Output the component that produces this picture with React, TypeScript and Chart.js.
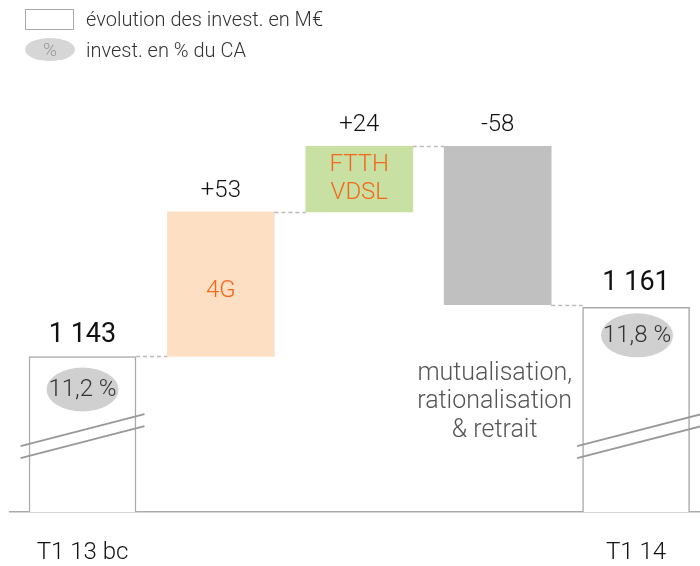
import React, { useEffect, useRef } from "react";
import { Chart, registerables } from "chart.js";

Chart.register(...registerables);

// ---- data ----
const categories = ["T1 13 bc", "4G", "FTTH/VDSL", "mutualisation", "T1 14"];
const xLabels = ["T1 13 bc", "", "", "", "T1 14"];
const startValue = 1143;
const deltas = [53, 24, -58];
const endValue = 1161;
const axisMin = 1086; // broken axis: value at the baseline
const axisMax = 1237;
const valueLabels = ["1 143", "+53", "+24", "-58", "1 161"];
const innerLabels = ["", "4G", "FTTH\nVDSL", "", ""];
const pctLabels = ["11,2 %", "", "", "", "11,8 %"];
const noteLabel = ["mutualisation,", "rationalisation", "& retrait"];
const barColors = ["#ffffff", "#fde0c4", "#c9e0a3", "#c0c0c0", "#ffffff"];

const FONT = "Roboto, 'Liberation Sans', Arial, sans-serif";
const W = "300";

function buildData() {
  const pts: { x: number; y: [number, number] }[] = [];
  pts.push({ x: 0, y: [axisMin, startValue] });
  let cum = startValue;
  deltas.forEach((d, i) => {
    pts.push({ x: i + 1, y: [cum, cum + d] });
    cum += d;
  });
  pts.push({ x: deltas.length + 1, y: [axisMin, endValue] });
  return pts;
}

const decorPlugin = {
  id: "decor",
  afterDatasetsDraw(chart: any) {
    const ctx = chart.ctx as CanvasRenderingContext2D;
    const meta = chart.getDatasetMeta(0);
    const yScale = chart.scales.y;
    const bars = meta.data as any[];
    const data = chart.data.datasets[0].data as any[];
    const last = bars.length - 1;
    ctx.save();
    // dashed connectors
    ctx.strokeStyle = "#bbbbbb";
    ctx.lineWidth = 1.5;
    ctx.setLineDash([4, 3]);
    for (let i = 0; i < last; i++) {
      const a = bars[i];
      const b = bars[i + 1];
      const v = data[i].y[1];
      const y = Math.round(yScale.getPixelForValue(v)) + 0.5;
      ctx.beginPath();
      ctx.moveTo(a.x + a.width / 2, y);
      ctx.lineTo(b.x - b.width / 2, y);
      ctx.stroke();
    }
    ctx.setLineDash([]);

    // break marks
    const yBreak = yScale.getPixelForValue(1116);
    ctx.strokeStyle = "#999999";
    ctx.lineWidth = 2;
    [0, last].forEach((i, k) => {
      const cx = bars[i].x + (k === 0 ? 0 : 3);
      for (const off of [0, 12]) {
        ctx.beginPath();
        ctx.moveTo(cx - 62, yBreak + 16 + off);
        ctx.lineTo(cx + 62, yBreak - 16 + off);
        ctx.stroke();
      }
    });

    ctx.textAlign = "center";
    ctx.textBaseline = "middle";
    bars.forEach((bar: any, i: number) => {
      const top = Math.min(bar.y, bar.base);
      const bottom = Math.max(bar.y, bar.base);
      const isTotal = i === 0 || i === last;
      // value labels
      ctx.fillStyle = "#111111";
      if (isTotal) {
        ctx.font = `400 27px ${FONT}`;
        ctx.fillText(valueLabels[i], bar.x, top - (i === 0 ? 21.5 : 24));
      } else {
        ctx.font = `${W} 24px ${FONT}`;
        ctx.fillText(valueLabels[i], bar.x, top - 21);
      }
      // inner labels
      if (innerLabels[i]) {
        const lines = innerLabels[i].split("\n");
        ctx.font = `${W} 24px ${FONT}`;
        ctx.fillStyle = "#f4681a";
        const mid = (top + bottom) / 2 + (lines.length === 1 ? 7 : 0);
        lines.forEach((l, j) => {
          ctx.fillText(l, bar.x, mid + (j - (lines.length - 1) / 2) * 28.5);
        });
      }
      // percentage ellipses
      if (pctLabels[i]) {
        const cy = top + (i === 0 ? 33 : 28);
        const cx = bar.x + (i === 0 ? 0 : 1);
        ctx.fillStyle = "#d0d0d0";
        ctx.beginPath();
        ctx.ellipse(cx, cy, 36, 22, 0, 0, Math.PI * 2);
        ctx.fill();
        ctx.font = `${W} 24px ${FONT}`;
        ctx.fillStyle = "#333333";
        ctx.fillText(pctLabels[i], cx, cy + 1);
      }
    });
    // note under negative bar
    const nb = bars[3];
    const nbBottom = Math.max(nb.y, nb.base);
    ctx.fillStyle = "#555555";
    ctx.textBaseline = "alphabetic";
    ctx.font = `${W} 25px ${FONT}`;
    noteLabel.forEach((l, j) => {
      ctx.fillText(l, nb.x - 3, nbBottom + 75 + j * 28.5);
    });
    ctx.restore();
  },
};

export default function App() {
  const ref = useRef<HTMLCanvasElement | null>(null);
  useEffect(() => {
    if (!ref.current) return;
    const chart = new Chart(ref.current, {
      type: "bar",
      data: {
        labels: categories,
        datasets: [
          {
            data: buildData() as any,
            backgroundColor: barColors,
            borderColor: "#aaaaaa",
            borderWidth: [1.5, 0, 0, 0, 1.5],
            borderSkipped: "bottom",
            barThickness: 107,
          },
        ],
      },
      options: {
        responsive: false,
        animation: false,
        devicePixelRatio: 1,
        layout: { padding: { left: 10, right: 0, top: 100, bottom: -28.8 } },
        plugins: { legend: { display: false }, tooltip: { enabled: false } },
        scales: {
          x: {
            type: "linear",
            offset: false,
            min: -0.524,
            max: 4.462,
            grid: { display: false, drawTicks: false },
            border: { display: true, color: "#aaaaaa", width: 1.5 },
            afterBuildTicks: (scale: any) => {
              scale.ticks = xLabels.map((_, i) => ({ value: i }));
            },
            ticks: {
              autoSkip: false,
              maxRotation: 0,
              padding: 27,
              color: "#111111",
              font: { size: 24, family: FONT, weight: W as any },
              callback: (v: any) => xLabels[v as number] ?? "",
            },
          },
          y: { display: false, min: axisMin, max: axisMax },
        },
      },
      plugins: [decorPlugin],
    });
    return () => chart.destroy();
  }, []);

  const legendText: React.CSSProperties = {
    position: "absolute",
    left: 86,
    fontFamily: FONT,
    fontWeight: 300,
    fontSize: 20,
    color: "#333",
    whiteSpace: "nowrap",
    lineHeight: "20px",
  };
  return (
    <div style={{ position: "fixed", left: 0, top: 0, width: 700, height: 566, background: "#fff" }}>
      <canvas ref={ref} width={700} height={566} style={{ position: "absolute", left: 0, top: 0 }} />
      <div
        style={{
          position: "absolute",
          left: 25,
          top: 9,
          width: 47,
          height: 19,
          border: "1px solid #aaa",
          background: "#fff",
        }}
      />
      <div style={{ ...legendText, top: 9 }}>évolution des invest. en M€</div>
      <div
        style={{
          position: "absolute",
          left: 25,
          top: 38,
          width: 50,
          height: 23,
          borderRadius: "50%",
          background: "#d6d6d6",
          color: "#999",
          fontFamily: FONT,
          fontWeight: 300,
          fontSize: 19,
          lineHeight: "23px",
          textAlign: "center",
        }}
      >
        %
      </div>
      <div style={{ ...legendText, top: 40 }}>invest. en % du CA</div>
    </div>
  );
}
